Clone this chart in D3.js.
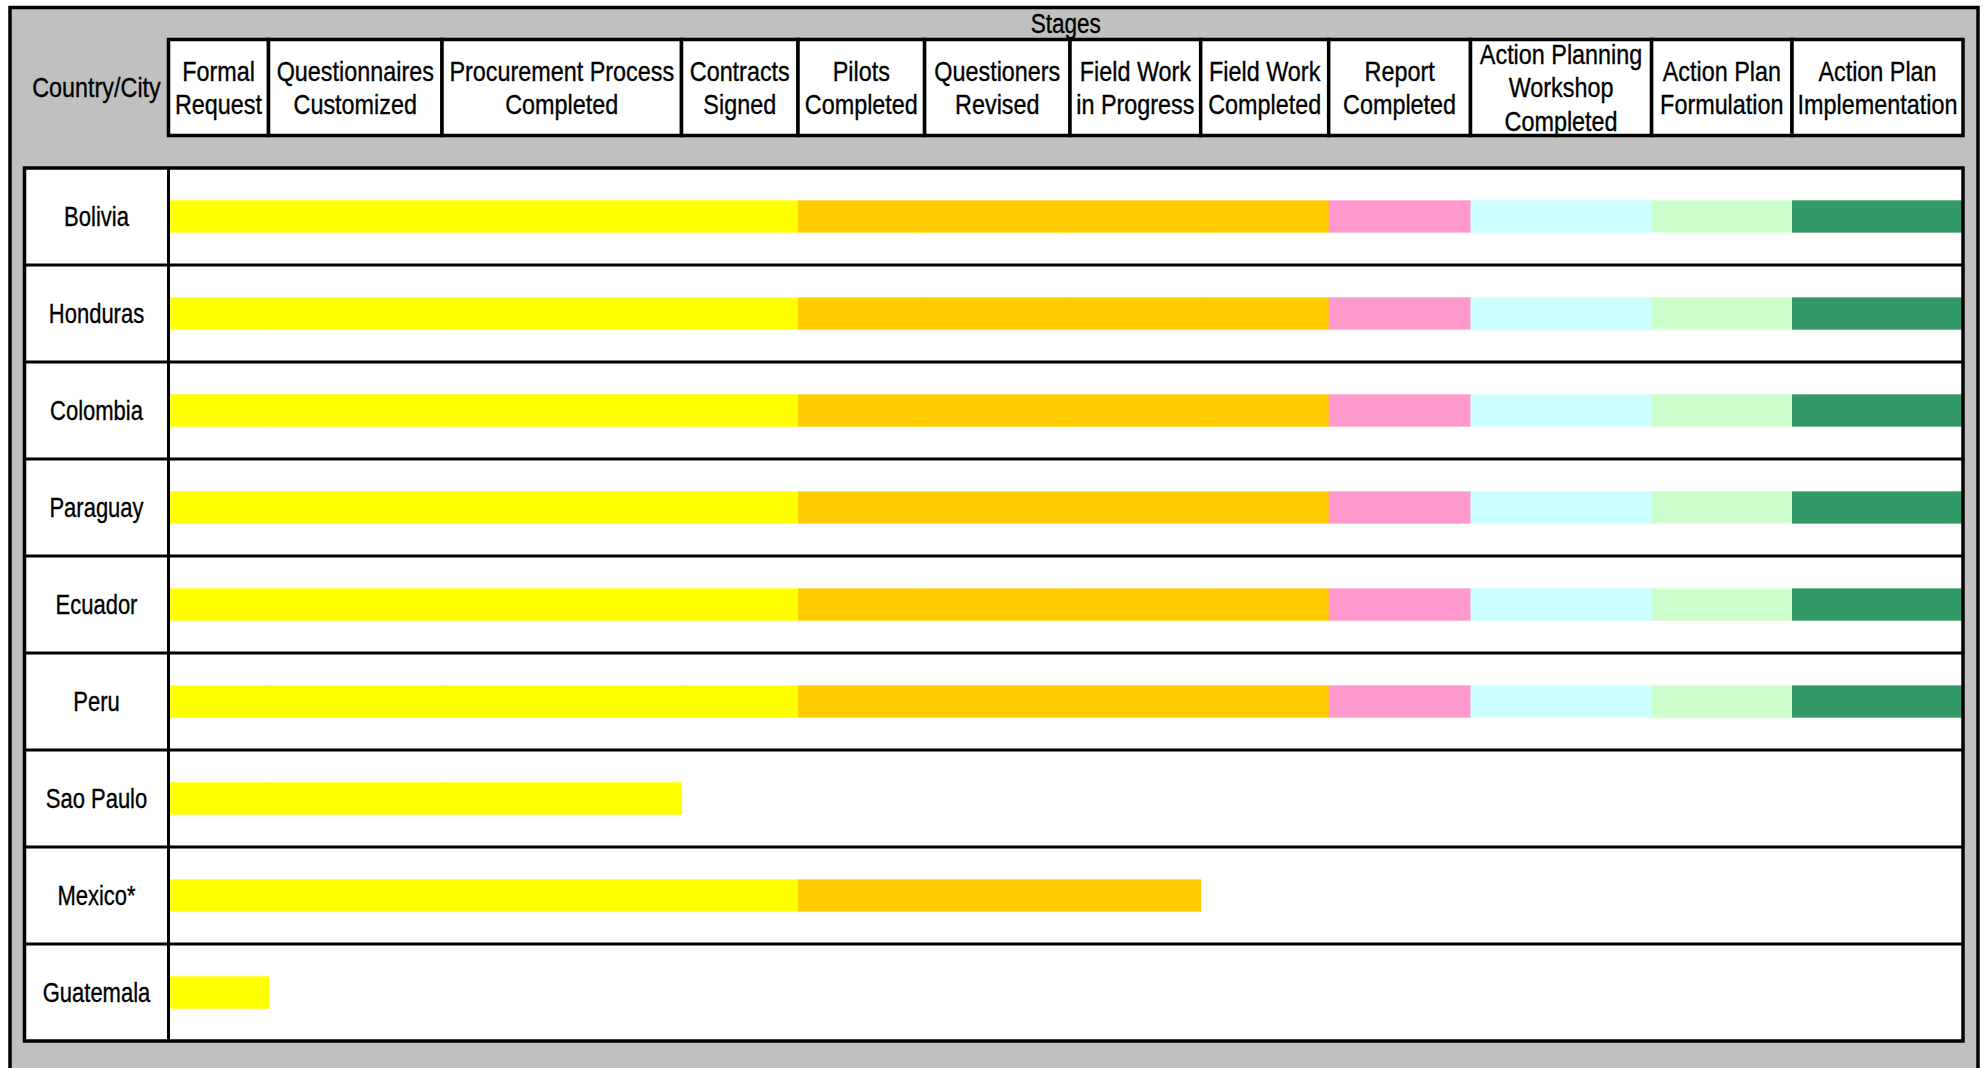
<!DOCTYPE html>
<html>
<head>
<meta charset="utf-8">
<script src="https://cdn.jsdelivr.net/npm/d3@7"></script>
<style>
    body { margin: 0; background: #ffffff; }
    text { font-family: "Liberation Sans", Arial, sans-serif; fill: #000; stroke: #000; stroke-width: 0.35px; }
</style>
</head>
<body>
<script>
'use strict';

// stages of the process (header columns), line breaks as in the sheet
var stages = [
    ['Formal', 'Request'],
    ['Questionnaires', 'Customized'],
    ['Procurement Process', 'Completed'],
    ['Contracts', 'Signed'],
    ['Pilots', 'Completed'],
    ['Questioners', 'Revised'],
    ['Field Work', 'in Progress'],
    ['Field Work', 'Completed'],
    ['Report', 'Completed'],
    ['Action Planning', 'Workshop', 'Completed'],
    ['Action Plan', 'Formulation'],
    ['Action Plan', 'Implementation']
];

var countries = ['Bolivia', 'Honduras', 'Colombia', 'Paraguay', 'Ecuador', 'Peru', 'Sao Paulo', 'Mexico*', 'Guatemala'];

// number of stages reached by each country
var stagesReached = [12, 12, 12, 12, 12, 12, 3, 7, 1];

var stageColors = ['#ffff00', '#ffff00', '#ffff00', '#ffff00',
    '#ffcc00', '#ffcc00', '#ffcc00', '#ffcc00',
    '#ff99cc', '#ccffff', '#ccffcc', '#339966'];

// layout
var width = 1986;
var height = 1068;
var colWidths = [100, 173.5, 239.5, 116.5, 126.6, 145.4, 130.7, 128, 141.8, 181.1, 140.4, 171];
var tableLeft = 24.5;
var labelRight = 168.5;
var headTop = 39.5;
var headBottom = 135.5;
var bodyTop = 168;
var bodyBottom = 1041;
var fontSize = 28;
var lineHeight = 33.5;
var narrow = 0.835;   // squeeze Liberation Sans to an Arial Narrow look

var edges = [labelRight];
colWidths.forEach(function (w) {
    edges.push(edges[edges.length - 1] + w);
});
var tableRight = edges[edges.length - 1];

// piecewise linear scale: stage boundary index -> x
var x = d3.scaleLinear()
    .domain(d3.range(stages.length + 1))
    .range(edges);

var y = d3.scaleBand()
    .domain(countries)
    .range([bodyTop, bodyBottom])
    .padding(0);

var svg = d3.select('body')
    .append('svg')
    .attr('width', width)
    .attr('height', height);

function label(sel, cx, cy, lines, size, squeeze) {
    var t = sel.append('text')
        .attr('transform', 'translate(' + cx + ',' + cy + ') scale(' + (squeeze || narrow) + ',1)')
        .attr('text-anchor', 'middle')
        .attr('font-size', size);
    var top = -(lines.length - 1) * lineHeight / 2;
    t.selectAll('tspan')
        .data(lines)
        .enter()
        .append('tspan')
        .attr('x', 0)
        .attr('y', function (d, k) { return top + k * lineHeight; })
        .attr('dominant-baseline', 'central')
        .text(function (d) { return d; });
    return t;
}

// grey panel
svg.append('rect')
    .attr('x', 10)
    .attr('y', 7.5)
    .attr('width', 1968)
    .attr('height', height + 20)
    .attr('fill', '#c0c0c0')
    .attr('stroke', '#000')
    .attr('stroke-width', 3.5);

label(svg, (labelRight + tableRight) / 2, 23, ['Stages'], 27);
label(svg, (tableLeft + labelRight) / 2, (headTop + headBottom) / 2, ['Country/City'], fontSize);

// header cells
var head = svg.append('g');

head.selectAll('.head-cell')
    .data(stages)
    .enter()
    .append('rect')
    .attr('class', 'head-cell')
    .attr('x', function (d, i) { return x(i); })
    .attr('y', headTop)
    .attr('width', function (d, i) { return x(i + 1) - x(i); })
    .attr('height', headBottom - headTop)
    .attr('fill', '#fff')
    .attr('stroke', '#000')
    .attr('stroke-width', 3.5);

stages.forEach(function (d, i) {
    label(head, (x(i) + x(i + 1)) / 2, (headTop + headBottom) / 2, d, fontSize);
});

// body table
var body = svg.append('g');

body.append('rect')
    .attr('x', tableLeft)
    .attr('y', bodyTop)
    .attr('width', tableRight - tableLeft)
    .attr('height', bodyBottom - bodyTop)
    .attr('fill', '#fff');

// bars, one segment per stage reached
var segments = [];
countries.forEach(function (c, ci) {
    for (var s = 0; s < stagesReached[ci]; s++) {
        segments.push({country: c, stage: s});
    }
});

body.selectAll('.seg')
    .data(segments)
    .enter()
    .append('rect')
    .attr('class', 'seg')
    .attr('x', function (d) { return x(d.stage); })
    .attr('y', function (d) { return y(d.country) + y.bandwidth() / 3; })
    .attr('width', function (d) { return x(d.stage + 1) - x(d.stage) + 0.5; })
    .attr('height', y.bandwidth() / 3)
    .attr('fill', function (d) { return stageColors[d.stage]; });

body.selectAll('.row-line')
    .data(countries.slice(1))
    .enter()
    .append('line')
    .attr('class', 'row-line')
    .attr('x1', tableLeft)
    .attr('x2', tableRight)
    .attr('y1', function (d) { return y(d); })
    .attr('y2', function (d) { return y(d); })
    .attr('stroke', '#000')
    .attr('stroke-width', 3);

body.append('line')
    .attr('x1', labelRight)
    .attr('x2', labelRight)
    .attr('y1', bodyTop)
    .attr('y2', bodyBottom)
    .attr('stroke', '#000')
    .attr('stroke-width', 3);

body.append('rect')
    .attr('x', tableLeft)
    .attr('y', bodyTop)
    .attr('width', tableRight - tableLeft)
    .attr('height', bodyBottom - bodyTop)
    .attr('fill', 'none')
    .attr('stroke', '#000')
    .attr('stroke-width', 3.5);

countries.forEach(function (c) {
    label(body, (tableLeft + labelRight) / 2, y(c) + y.bandwidth() / 2, [c], 27.5, 0.8);
});
</script>
</body>
</html>
